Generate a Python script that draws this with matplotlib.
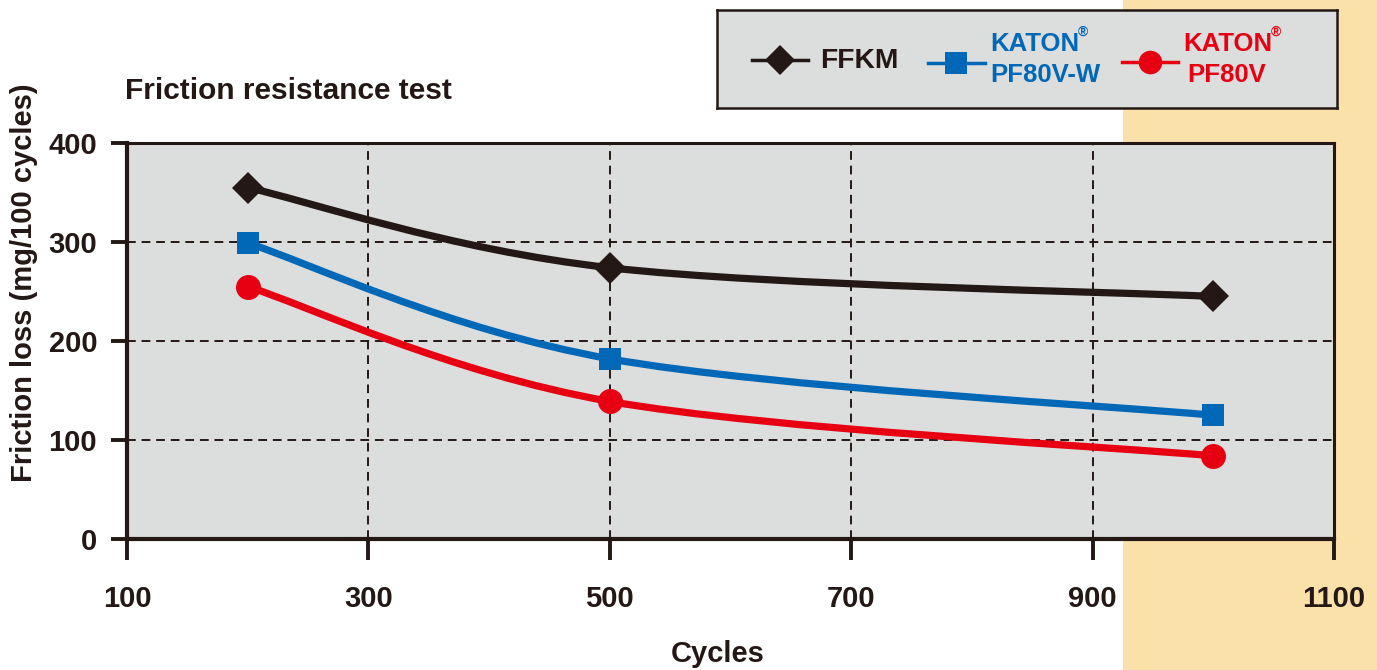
import matplotlib
matplotlib.use('Agg')
import matplotlib.pyplot as plt
from matplotlib.patches import Rectangle, PathPatch
from matplotlib.path import Path
from matplotlib.lines import Line2D

plt.rcParams['font.family'] = ['Liberation Sans', 'DejaVu Sans']
plt.rcParams['font.weight'] = 'bold'

cycles = [200, 500, 1000]
ffkm = [355, 274, 245]
pf80v_w = [299, 182, 125]
pf80v = [255, 139, 84]

x_ticks = [100, 300, 500, 700, 900, 1100]
y_ticks = [0, 100, 200, 300, 400]

dark = '#231815'
blue = '#0068B6'
red = '#E60012'
gray = '#DCDDDD'
orange = '#FAE1A9'

W, H = 1377, 670
fig = plt.figure(figsize=(W / 100, H / 100), dpi=100)
fig.patch.set_facecolor('white')

# orange strip on the right
fig.patches.append(Rectangle((1123 / W, 0), 1 - 1123 / W, 1, transform=fig.transFigure,
                             facecolor=orange, edgecolor='none', zorder=-5))


def smooth_path(xs, ys):
    # cubic bezier through the points (excel-like smoothed line)
    pts = list(zip(xs, ys))
    n = len(pts)
    verts = [pts[0]]
    codes = [Path.MOVETO]
    for i in range(n - 1):
        p0 = pts[max(i - 1, 0)]
        p1 = pts[i]
        p2 = pts[i + 1]
        p3 = pts[min(i + 2, n - 1)]
        c1 = (p1[0] + (p2[0] - p0[0]) / 6, p1[1] + (p2[1] - p0[1]) / 6)
        c2 = (p2[0] - (p3[0] - p1[0]) / 6, p2[1] - (p3[1] - p1[1]) / 6)
        verts += [c1, c2, p2]
        codes += [Path.CURVE4] * 3
    return Path(verts, codes)


ax = fig.add_axes([127 / W, 1 - 539 / H, (1334 - 127) / W, (539 - 143) / H])
ax.set_facecolor(gray)
ax.set_xlim(100, 1100)
ax.set_ylim(0, 400)
ax.set_xticks(x_ticks)
ax.set_yticks(y_ticks)
ax.set_axisbelow(True)
ax.grid(True, color=dark, linestyle=(0, (4.5, 3)), linewidth=1.4)
for side in ['left', 'bottom']:
    ax.spines[side].set_linewidth(3)
for side in ['top', 'right']:
    ax.spines[side].set_linewidth(2.2)
for s in ax.spines.values():
    s.set_color(dark)
ax.tick_params(axis='y', direction='out', length=11.5, width=2.8, pad=10, labelsize=21, colors=dark)
ax.tick_params(axis='x', direction='out', length=15, width=2.8, pad=18, labelsize=21, colors=dark)
for lab in ax.get_xticklabels() + ax.get_yticklabels():
    lab.set_fontweight('bold')

series = [(ffkm, dark, 'D', 16), (pf80v_w, blue, 's', 16.5), (pf80v, red, 'o', 18)]
for vals, col, mk, ms in series:
    ax.add_patch(PathPatch(smooth_path(cycles, vals), facecolor='none', edgecolor=col,
                           lw=5.2, capstyle='butt', zorder=3))
    ax.plot(cycles, vals, linestyle='none', marker=mk, markersize=ms, color=col,
            markeredgewidth=0, zorder=4)

fig.text(125 / W, 1 - 91 / H, 'Friction resistance test', fontsize=21.5, fontweight='bold',
         color=dark, va='center', ha='left')
fig.text(24 / W, 1 - 283 / H, 'Friction loss (mg/100 cycles)', fontsize=21, fontweight='bold',
         color=dark, rotation=90, va='center', ha='center')
fig.text(718 / W, 1 - 654 / H, 'Cycles', fontsize=21, fontweight='bold',
         color=dark, va='center', ha='center')

# legend box
lg = fig.add_axes([717 / W, 1 - 108 / H, (1337 - 717) / W, (108 - 10) / H])
lg.set_xlim(717, 1337)
lg.set_ylim(108, 10)
lg.set_facecolor(gray)
lg.set_xticks([])
lg.set_yticks([])
for s in lg.spines.values():
    s.set_linewidth(1.8)
    s.set_color(dark)

lg.add_line(Line2D([752, 808], [60, 60], color=dark, lw=2.5))
lg.plot([780], [60], marker='D', markersize=15, color=dark, markeredgewidth=0)
lg.text(820, 61, 'FFKM', fontsize=20.3, fontweight='bold', color=dark, va='center', ha='left')

lg.add_line(Line2D([928, 985], [63, 63], color=blue, lw=2.5))
lg.plot([956], [63], marker='s', markersize=16, color=blue, markeredgewidth=0)
lg.text(990, 44, 'KATON', fontsize=18.5, fontweight='bold', color=blue, va='center', ha='left')
lg.text(1078, 32, '®', fontsize=10, fontweight='bold', color=blue, va='center', ha='left')
lg.text(990, 75, 'PF80V-W', fontsize=18.5, fontweight='bold', color=blue, va='center', ha='left')

lg.add_line(Line2D([1122, 1178], [62, 62], color=red, lw=2.5))
lg.plot([1150], [62], marker='o', markersize=17, color=red, markeredgewidth=0)
lg.text(1183, 44, 'KATON', fontsize=18.5, fontweight='bold', color=red, va='center', ha='left')
lg.text(1271, 32, '®', fontsize=10, fontweight='bold', color=red, va='center', ha='left')
lg.text(1187, 75, 'PF80V', fontsize=18.5, fontweight='bold', color=red, va='center', ha='left')

fig.savefig('out.png', dpi=100)
